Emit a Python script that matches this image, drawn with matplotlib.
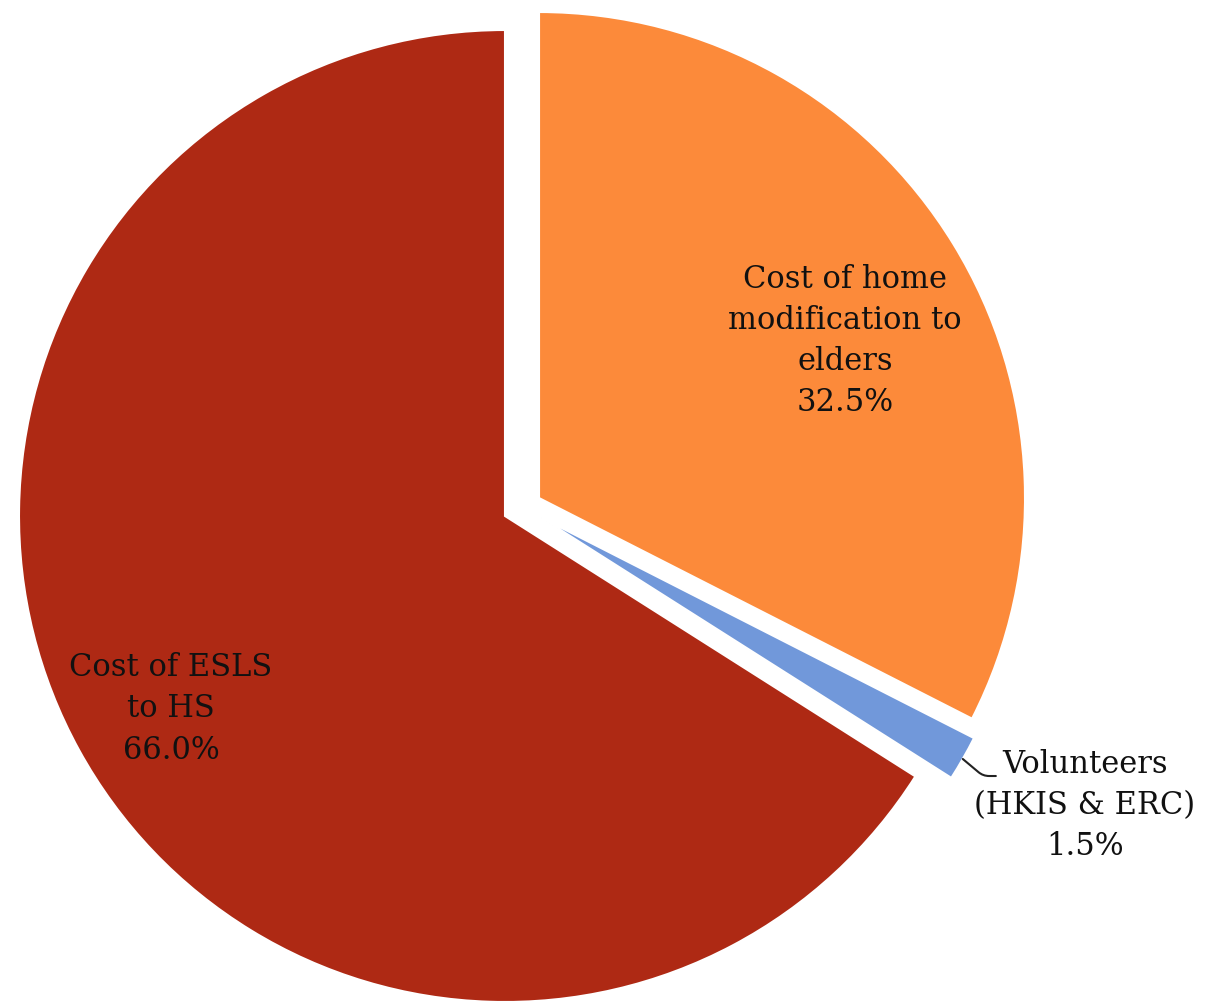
import matplotlib
matplotlib.use("Agg")
import matplotlib.pyplot as plt

categories = ["Cost of home\nmodification to\nelders", "Volunteers\n(HKIS & ERC)", "Cost of ESLS\nto HS"]
values = [32.5, 1.5, 66.0]
colors = ["#FC8A3A", "#7198DA", "#AE2914"]

fig = plt.figure(figsize=(12.09, 10.05), dpi=100)
ax = fig.add_axes([0, 0, 1, 1])
cx, cy, r = 505, 516, 486
W, H = 1209, 1005
xlim = (-cx / r, (W - cx) / r)
ylim = (-(H - cy) / r, cy / r)

wedges, _ = ax.pie(values, colors=colors, startangle=90,
                   counterclock=False, radius=1.0,
                   wedgeprops=dict(edgecolor='white', linewidth=1.5))
# exploded slices
wedges[0].set_center((0.070, 0.037))
wedges[1].set_center((0.074, -0.003))
ax.set_xlim(*xlim)
ax.set_ylim(*ylim)
ax.set_aspect('auto')
ax.axis('off')

font = dict(family="DejaVu Serif", fontsize=22, color="#111111",
            ha="center", va="center", linespacing=1.42)

def lab(i):
    return f"{categories[i]}\n{values[i]:.1f}%"

ax.text(0.700, 0.360, lab(0), **font)
ax.text(-0.687, -0.397, lab(2), **font)
ax.text(1.193, -0.595, lab(1), **font)
ax.annotate("", xy=(0.942, -0.500), xytext=(1.010, -0.535),
            arrowprops=dict(arrowstyle='-', color='#222222', lw=1.5,
                            shrinkA=0, shrinkB=0,
                            connectionstyle="angle,angleA=0,angleB=-40,rad=6"))

fig.savefig("out.png", dpi=100)
